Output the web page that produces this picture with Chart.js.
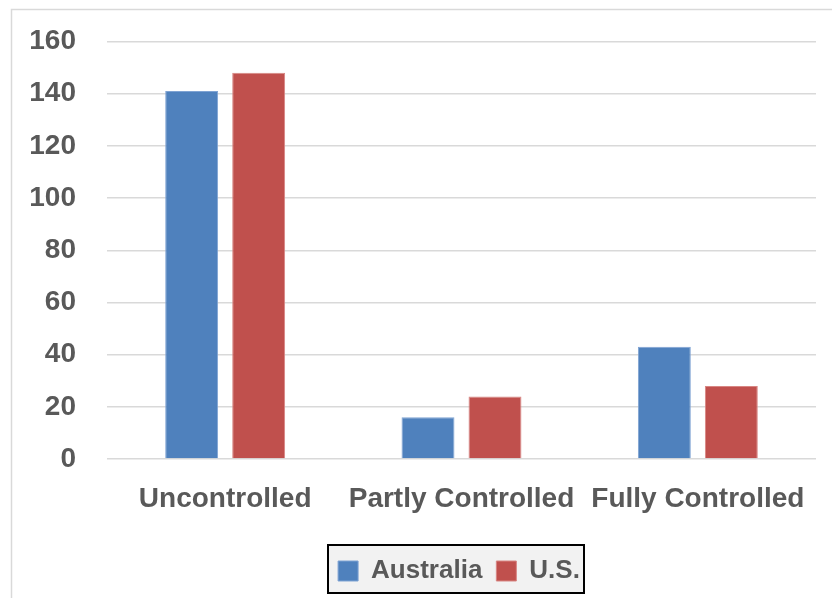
<!DOCTYPE html>
<html>
<head>
<meta charset="utf-8">
<script src="https://cdn.jsdelivr.net/npm/chart.js@4"></script>
<style>
  html, body { margin: 0; padding: 0; background: #ffffff; }
  #wrap { position: relative; width: 832px; height: 598px; }
</style>
</head>
<body>
<div id="wrap"><canvas id="c" width="832" height="598"></canvas></div>
<script>
const categories = ["Uncontrolled", "Partly Controlled", "Fully Controlled"];
const australia = [141, 16, 43];
const us = [148, 24, 28];
const seriesNames = ["Australia", "U.S."];
const yTicks = [0, 20, 40, 60, 80, 100, 120, 140, 160];

const textColor = "#595959";
const fontFamily = "'Liberation Sans', Arial, sans-serif";

const frame = {
  id: "frame",
  beforeDraw(chart) {
    const ctx = chart.ctx;
    ctx.save();
    ctx.fillStyle = "#ffffff";
    ctx.fillRect(0, 0, chart.width, chart.height);
    ctx.strokeStyle = "#d9d9d9";
    ctx.lineWidth = 1.5;
    ctx.strokeRect(11.5, 9.5, 900, 700);
    const lg = chart.legend;
    if (lg) {
      const cx = (lg.left + lg.right) / 2 - 3;
      const cy = (lg.top + lg.bottom) / 2;
      const w = 256, h = 48;
      ctx.fillStyle = "#f2f2f2";
      ctx.fillRect(cx - w / 2, cy - h / 2, w, h);
      ctx.strokeStyle = "#000000";
      ctx.lineWidth = 2;
      ctx.strokeRect(cx - w / 2, cy - h / 2, w, h);
    }
    ctx.restore();
  },
  afterLayout(chart) {
    const lg = chart.legend;
    const target = 459;
    const cur = (lg.left + lg.right) / 2;
    const d = target - cur;
    lg.left += d; lg.right += d;
  }
};

new Chart(document.getElementById("c"), {
  type: "bar",
  data: {
    labels: categories,
    datasets: [
      { label: seriesNames[0], data: australia, backgroundColor: "#4f81bd", borderColor: "#7fa3d3", borderWidth: 1, categoryPercentage: 0.567, barPercentage: 0.79 },
      { label: seriesNames[1], data: us, backgroundColor: "#c0504d", borderColor: "#d88683", borderWidth: 1, categoryPercentage: 0.567, barPercentage: 0.79 }
    ]
  },
  options: {
    responsive: false,
    animation: false,
    devicePixelRatio: 1,
    layout: { padding: { top: 41.5, right: 16, left: 20, bottom: 4 } },
    plugins: {
      legend: {
        position: "bottom",
        labels: {
          color: textColor,
          font: { family: fontFamily, size: 26, weight: "bold" },
          boxWidth: 20, boxHeight: 20, padding: 14
        }
      },
      tooltip: { enabled: false }
    },
    scales: {
      y: {
        min: 0, max: 160,
        afterBuildTicks(scale) { scale.ticks = yTicks.map(v => ({ value: v })); },
        afterFit(scale) { scale.width = 87; scale.paddingTop = 0; scale.paddingBottom = 0; },
        ticks: { color: textColor, padding: 31, font: { family: fontFamily, size: 28, weight: "bold" } },
        grid: { color: "#d9d9d9", lineWidth: 1.5, drawTicks: false },
        border: { display: false }
      },
      x: {
        afterFit(scale) { scale.height = 85; },
        ticks: { color: textColor, padding: 15, font: { family: fontFamily, size: 28, weight: "bold" } },
        grid: { display: false },
        border: { display: false }
      }
    }
  },
  plugins: [frame]
});
</script>
</body>
</html>
